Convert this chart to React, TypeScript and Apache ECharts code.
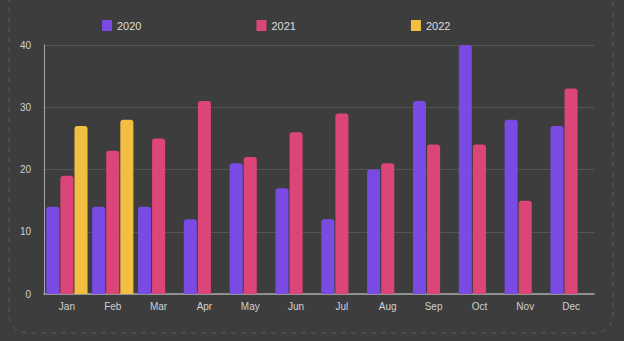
import React, { useEffect, useRef } from "react";
import * as echarts from "echarts";

const months = ["Jan", "Feb", "Mar", "Apr", "May", "Jun", "Jul", "Aug", "Sep", "Oct", "Nov", "Dec"];
const series2020 = [14, 14, 14, 12, 21, 17, 12, 20, 31, 40, 28, 27];
const series2021 = [19, 23, 25, 31, 22, 26, 29, 21, 24, 24, 15, 33];
const series2022: (number | null)[] = [27, 28, null, null, null, null, null, null, null, null, null, null];
const seriesNames = ["2020", "2021", "2022"];
const colors = ["#7a4be3", "#dc4577", "#f2bf42"];

export default function App() {
  const ref = useRef<HTMLDivElement>(null);
  useEffect(() => {
    if (!ref.current) return;
    const chart = echarts.init(ref.current, undefined, { renderer: "svg" });
    const data = [series2020, series2021, series2022];
    chart.setOption({
      animation: false,
      backgroundColor: "#3d3d3d",
      textStyle: { fontFamily: "Liberation Sans, Arial, sans-serif" },
      graphic: [
        {
          type: "rect",
          shape: { x: 9, y: -20, width: 604, height: 353, r: 18 },
          style: { fill: "none", stroke: "#5a5a5a", lineWidth: 1, lineDash: [5, 5] },
          silent: true,
        },
      ],
      legend: {
        top: 15,
        left: 97,
        itemWidth: 10,
        itemHeight: 11,
        itemGap: 115,
        icon: "rect",
        textStyle: { color: "#dddddd", fontSize: 11 },
        data: seriesNames,
      },
      grid: { left: 44, right: 30, top: 45, bottom: 47, containLabel: false },
      xAxis: {
        type: "category",
        data: months,
        axisLine: { show: true, lineStyle: { color: "#a8a8a8", width: 1.5 } },
        axisTick: { show: false },
        axisLabel: { color: "#d0d0d0", fontSize: 10, margin: 7 },
      },
      yAxis: {
        type: "value",
        min: 0,
        max: 40,
        interval: 10,
        axisLine: { show: true, lineStyle: { color: "#a8a8a8", width: 1 } },
        axisTick: { show: false },
        axisLabel: { color: "#d0d0d0", fontSize: 10, margin: 13 },
        splitLine: { lineStyle: { color: "#555555", width: 1 } },
      },
      series: seriesNames.map((name, i) => ({
        name,
        type: "bar",
        data: data[i],
        barGap: "8%",
        barCategoryGap: "10%",
        itemStyle: { color: colors[i], borderRadius: [3, 3, 0, 0] },
      })),
    });
    return () => chart.dispose();
  }, []);
  return (
    <div
      ref={ref}
      style={{ position: "fixed", left: 0, top: 0, width: 624, height: 341 }}
    />
  );
}
